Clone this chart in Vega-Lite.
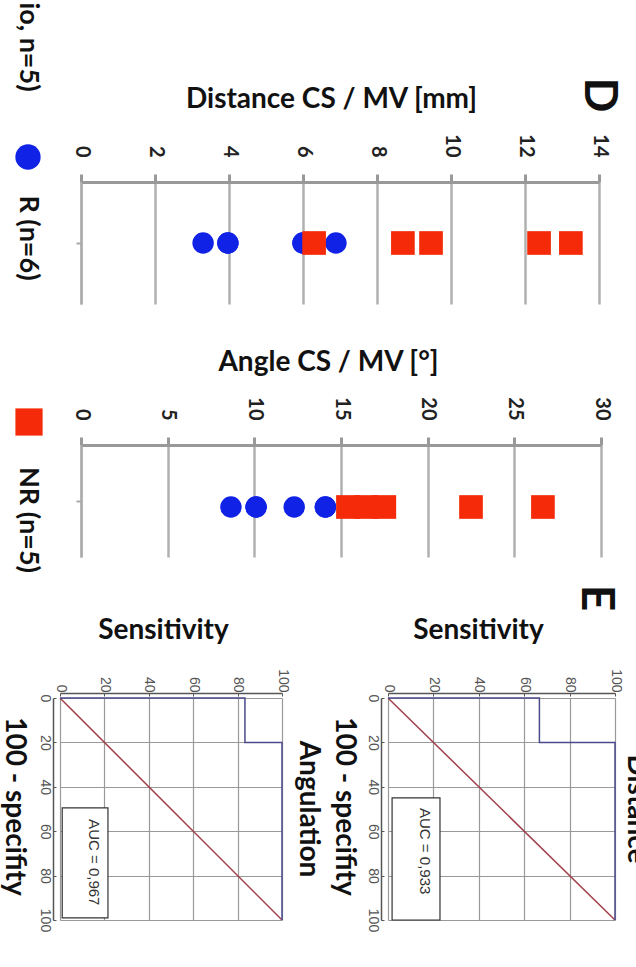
{
  "$schema": "https://vega.github.io/schema/vega-lite/v6.json",
  "background": "white",
  "padding": {"left": -2, "top": 2, "right": 0, "bottom": 0},
  "config": {"view": {"stroke": null}, "font": "Lato", "axis": {"labelFont": "Lato", "titleFont": "Lato"}},
  "datasets": {
    "dist": [
      {"group": "R", "row": "a", "value": 3.3},
      {"group": "R", "row": "a", "value": 3.97},
      {"group": "R", "row": "a", "value": 3.97},
      {"group": "R", "row": "a", "value": 6.0},
      {"group": "R", "row": "a", "value": 6.0},
      {"group": "R", "row": "a", "value": 6.89},
      {"group": "NR", "row": "a", "value": 6.3},
      {"group": "NR", "row": "a", "value": 8.7},
      {"group": "NR", "row": "a", "value": 9.46},
      {"group": "NR", "row": "a", "value": 12.38},
      {"group": "NR", "row": "a", "value": 13.24}
    ],
    "ang": [
      {"group": "R", "row": "a", "value": 8.65},
      {"group": "R", "row": "a", "value": 10.1},
      {"group": "R", "row": "a", "value": 10.1},
      {"group": "R", "row": "a", "value": 12.3},
      {"group": "R", "row": "a", "value": 14.1},
      {"group": "R", "row": "a", "value": 14.1},
      {"group": "NR", "row": "a", "value": 15.4},
      {"group": "NR", "row": "a", "value": 16.45},
      {"group": "NR", "row": "a", "value": 17.5},
      {"group": "NR", "row": "a", "value": 22.5},
      {"group": "NR", "row": "a", "value": 26.65}
    ],
    "rocA": [
      {"i": 0, "fpr": 0, "sens": 0},
      {"i": 1, "fpr": 0, "sens": 83.3},
      {"i": 2, "fpr": 20, "sens": 83.3},
      {"i": 3, "fpr": 20, "sens": 100},
      {"i": 4, "fpr": 100, "sens": 100}
    ],
    "rocD": [
      {"i": 0, "fpr": 0, "sens": 0},
      {"i": 1, "fpr": 0, "sens": 66.7},
      {"i": 2, "fpr": 20, "sens": 66.7},
      {"i": 3, "fpr": 20, "sens": 100},
      {"i": 4, "fpr": 100, "sens": 100}
    ],
    "diag": [
      {"i": 0, "fpr": 0, "sens": 0},
      {"i": 1, "fpr": 100, "sens": 100}
    ]
  },
  "bounds": "flush",
  "spacing": 141,
  "vconcat": [
    {
      "width": 539,
      "height": 122,
      "layer": [
        {
          "data": {"name": "dist"},
          "mark": {"type": "point", "filled": true, "opacity": 1},
          "encoding": {
            "x": {"field": "value", "type": "quantitative", "scale": {"domain": [0, 14], "nice": false, "range": [21, 539]},
              "axis": {"orient": "top", "values": [0, 2, 4, 6, 8, 10, 12, 14], "labelAngle": 90, "labelAlign": "right", "labelBaseline": "middle", "labelFontSize": 20, "labelFontWeight": "bold", "labelColor": "#222", "labelPadding": 17, "domainColor": "#999", "domainWidth": 3, "tickColor": "#999", "tickWidth": 3, "tickSize": 8, "grid": true, "gridColor": "#b0b0b0", "gridWidth": 2.5, "title": "Distance CS / MV [mm]", "titleFontSize": 28, "titleFontWeight": "bold", "titleColor": "#111", "titlePadding": 20, "titleX": 271, "titleAlign": "center"}},
            "y": {"field": "row", "type": "nominal", "axis": {"offset": -21, "labels": false, "title": null, "domainColor": "#aaa", "domainWidth": 2, "tickColor": "#aaa", "tickWidth": 2, "tickSize": 5, "grid": false}},
            "color": {"field": "group", "type": "nominal", "scale": {"domain": ["R", "NR"], "range": ["#1022e6", "#f42a08"]}, "legend": null},
            "shape": {"field": "group", "type": "nominal", "scale": {"domain": ["R", "NR"], "range": ["circle", "square"]}, "legend": null},
            "size": {"field": "group", "type": "nominal", "scale": {"domain": ["R", "NR"], "range": [460, 560]}, "legend": null}
          }
        },
        {
          "data": {"values": [{"label": "R (n=6)"}]},
          "mark": {"type": "point", "filled": true, "opacity": 1, "shape": "circle", "color": "#1022e6", "size": 640, "xOffset": -53, "yOffset": -86},
          "encoding": {"x": {"datum": 0, "type": "quantitative"}, "y": {"datum": "a", "type": "nominal"}}
        },
        {
          "data": {"values": [{"label": "R (n=6)"}]},
          "mark": {"type": "text", "angle": 90, "fontSize": 27, "fontWeight": "bold", "color": "#111", "align": "center", "baseline": "middle", "xOffset": -53, "yOffset": -5},
          "encoding": {"x": {"datum": 0, "type": "quantitative"}, "y": {"datum": "a", "type": "nominal"}, "text": {"field": "label"}}
        },
        {
          "data": {"values": [{"label": "io, n=5)"}]},
          "mark": {"type": "text", "angle": 90, "fontSize": 27, "fontWeight": "bold", "color": "#111", "align": "center", "baseline": "middle", "xOffset": -53, "yOffset": -196},
          "encoding": {"x": {"datum": 0, "type": "quantitative"}, "y": {"datum": "a", "type": "nominal"}, "text": {"field": "label"}}
        },
        {
          "data": {"values": [{"label": "D"}]},
          "mark": {"type": "text", "angle": 90, "fontSize": 46, "fontWeight": "bold", "color": "#111", "align": "center", "baseline": "middle", "xOffset": 0, "yOffset": -148},
          "encoding": {"x": {"datum": 14, "type": "quantitative"}, "y": {"datum": "a", "type": "nominal"}, "text": {"field": "label"}}
        }
      ]
    },
    {
      "width": 541,
      "height": 112,
      "layer": [
        {
          "data": {"name": "ang"},
          "mark": {"type": "point", "filled": true, "opacity": 1, "yOffset": 6},
          "encoding": {
            "x": {"field": "value", "type": "quantitative", "scale": {"domain": [0, 30], "nice": false, "range": [21, 541]},
              "axis": {"orient": "top", "values": [0, 5, 10, 15, 20, 25, 30], "labelAngle": 90, "labelAlign": "right", "labelBaseline": "middle", "labelFontSize": 20, "labelFontWeight": "bold", "labelColor": "#222", "labelPadding": 17, "domainColor": "#999", "domainWidth": 3, "tickColor": "#999", "tickWidth": 3, "tickSize": 8, "grid": true, "gridColor": "#b0b0b0", "gridWidth": 2.5, "title": "Angle CS / MV [°]", "titleFontSize": 28, "titleFontWeight": "bold", "titleColor": "#111", "titlePadding": 20, "titleX": 268, "titleAlign": "center"}},
            "y": {"field": "row", "type": "nominal", "axis": {"offset": -21, "labels": false, "title": null, "domainColor": "#aaa", "domainWidth": 2, "tickColor": "#aaa", "tickWidth": 2, "tickSize": 5, "grid": false}},
            "color": {"field": "group", "type": "nominal", "scale": {"domain": ["R", "NR"], "range": ["#1022e6", "#f42a08"]}, "legend": null},
            "shape": {"field": "group", "type": "nominal", "scale": {"domain": ["R", "NR"], "range": ["circle", "square"]}, "legend": null},
            "size": {"field": "group", "type": "nominal", "scale": {"domain": ["R", "NR"], "range": [460, 560]}, "legend": null}
          }
        },
        {
          "data": {"values": [{"label": "NR (n=5)"}]},
          "mark": {"type": "point", "filled": true, "opacity": 1, "shape": "square", "color": "#f42a08", "size": 740, "xOffset": -52, "yOffset": -79},
          "encoding": {"x": {"datum": 0, "type": "quantitative"}, "y": {"datum": "a", "type": "nominal"}}
        },
        {
          "data": {"values": [{"label": "NR (n=5)"}]},
          "mark": {"type": "text", "angle": 90, "fontSize": 27, "fontWeight": "bold", "color": "#111", "align": "center", "baseline": "middle", "xOffset": -53, "yOffset": 19},
          "encoding": {"x": {"datum": 0, "type": "quantitative"}, "y": {"datum": "a", "type": "nominal"}, "text": {"field": "label"}}
        }
      ]
    },
    {
      "bounds": "flush",
      "spacing": 106,
      "hconcat": [
        {
          "width": 222,
          "height": 222,
          "title": {"text": "Angulation", "orient": "right", "fontSize": 28, "fontWeight": "bold", "font": "Lato", "color": "#111", "offset": 5},
          "layer": [
            {
              "data": {"name": "diag"},
              "mark": {"type": "line", "color": "#a0404a", "strokeWidth": 1.5},
              "encoding": {
                "x": {"field": "sens", "type": "quantitative", "scale": {"domain": [0, 100], "nice": false},
                  "axis": {"orient": "top", "values": [0, 5, 10, 15, 20, 25, 30, 35, 40, 45, 50, 55, 60, 65, 70, 75, 80, 85, 90, 95, 100], "labelExpr": "datum.value % 20 === 0 ? datum.label : ''", "labelOverlap": false, "labelAngle": 90, "labelAlign": "right", "labelBaseline": "middle", "labelFont": "Liberation Sans", "labelFontSize": 14, "labelColor": "#555", "labelPadding": 4, "offset": 5, "domainColor": "#555", "domainWidth": 1.5, "tickColor": "#555", "tickSize": -3, "tickWidth": 1, "grid": true, "gridColor": "#999", "gridWidth": 1.2, "gridOpacity": {"condition": {"test": "datum.value % 20 === 0", "value": 1}, "value": 0}, "title": "Sensitivity", "titleFontSize": 28, "titleFontWeight": "bold", "titleColor": "#111", "titlePadding": 24, "titleX": 103, "titleAlign": "center"}},
                "y": {"field": "fpr", "type": "quantitative", "scale": {"domain": [0, 100], "nice": false, "reverse": true},
                  "axis": {"orient": "left", "values": [0, 5, 10, 15, 20, 25, 30, 35, 40, 45, 50, 55, 60, 65, 70, 75, 80, 85, 90, 95, 100], "labelExpr": "datum.value % 20 === 0 ? datum.label : ''", "labelOverlap": false, "labelAngle": 90, "labelAlign": "center", "labelBaseline": "top", "labelFont": "Liberation Sans", "labelFontSize": 14, "labelColor": "#555", "labelPadding": 5, "offset": 7, "domainColor": "#555", "domainWidth": 1.5, "tickColor": "#555", "tickSize": -3, "tickWidth": 1, "grid": true, "gridColor": "#999", "gridWidth": 1.2, "gridOpacity": {"condition": {"test": "datum.value % 20 === 0", "value": 1}, "value": 0}, "title": "100 - specifity", "titleAngle": 90, "titleFontSize": 28, "titleFontWeight": "bold", "titleColor": "#111", "titleX": -40, "titleY": 108, "titleAlign": "center", "titleBaseline": "middle"}},
                "order": {"field": "i", "type": "quantitative"}
              }
            },
            {
              "data": {"name": "rocA"},
              "mark": {"type": "line", "color": "#4a4a8c", "strokeWidth": 1.5},
              "encoding": {"x": {"field": "sens", "type": "quantitative"}, "y": {"field": "fpr", "type": "quantitative"}, "order": {"field": "i", "type": "quantitative"}}
            },
            {
              "data": {"values": [{"label": "AUC = 0,967"}]},
              "mark": {"type": "rect", "fill": "white", "stroke": "#333", "strokeWidth": 1.2},
              "encoding": {"x": {"datum": 1, "type": "quantitative"}, "x2": {"datum": 21.6}, "y": {"datum": 49.5, "type": "quantitative"}, "y2": {"datum": 99}}
            },
            {
              "data": {"values": [{"label": "AUC = 0,967"}]},
              "mark": {"type": "text", "angle": 90, "font": "Liberation Sans", "fontSize": 15, "color": "#333", "align": "center", "baseline": "middle"},
              "encoding": {"x": {"datum": 15.5, "type": "quantitative"}, "y": {"datum": 74, "type": "quantitative"}, "text": {"field": "label"}}
            }
          ]
        },
        {
          "width": 227,
          "height": 222,
          "title": {"text": "Distance", "orient": "right", "fontSize": 28, "fontWeight": "bold", "font": "Lato", "color": "#111", "offset": 0},
          "layer": [
            {
              "data": {"name": "diag"},
              "mark": {"type": "line", "color": "#a0404a", "strokeWidth": 1.5},
              "encoding": {
                "x": {"field": "sens", "type": "quantitative", "scale": {"domain": [0, 100], "nice": false},
                  "axis": {"orient": "top", "values": [0, 5, 10, 15, 20, 25, 30, 35, 40, 45, 50, 55, 60, 65, 70, 75, 80, 85, 90, 95, 100], "labelExpr": "datum.value % 20 === 0 ? datum.label : ''", "labelOverlap": false, "labelAngle": 90, "labelAlign": "right", "labelBaseline": "middle", "labelFont": "Liberation Sans", "labelFontSize": 14, "labelColor": "#555", "labelPadding": 4, "offset": 5, "domainColor": "#555", "domainWidth": 1.5, "tickColor": "#555", "tickSize": -3, "tickWidth": 1, "grid": true, "gridColor": "#999", "gridWidth": 1.2, "gridOpacity": {"condition": {"test": "datum.value % 20 === 0", "value": 1}, "value": 0}, "title": "Sensitivity", "titleFontSize": 28, "titleFontWeight": "bold", "titleColor": "#111", "titlePadding": 24, "titleX": 90, "titleAlign": "center"}},
                "y": {"field": "fpr", "type": "quantitative", "scale": {"domain": [0, 100], "nice": false, "reverse": true},
                  "axis": {"orient": "left", "values": [0, 5, 10, 15, 20, 25, 30, 35, 40, 45, 50, 55, 60, 65, 70, 75, 80, 85, 90, 95, 100], "labelExpr": "datum.value % 20 === 0 ? datum.label : ''", "labelOverlap": false, "labelAngle": 90, "labelAlign": "center", "labelBaseline": "top", "labelFont": "Liberation Sans", "labelFontSize": 14, "labelColor": "#555", "labelPadding": 5, "offset": 7, "domainColor": "#555", "domainWidth": 1.5, "tickColor": "#555", "tickSize": -3, "tickWidth": 1, "grid": true, "gridColor": "#999", "gridWidth": 1.2, "gridOpacity": {"condition": {"test": "datum.value % 20 === 0", "value": 1}, "value": 0}, "title": "100 - specifity", "titleAngle": 90, "titleFontSize": 28, "titleFontWeight": "bold", "titleColor": "#111", "titleX": -38, "titleY": 108, "titleAlign": "center", "titleBaseline": "middle"}},
                "order": {"field": "i", "type": "quantitative"}
              }
            },
            {
              "data": {"name": "rocD"},
              "mark": {"type": "line", "color": "#4a4a8c", "strokeWidth": 1.5},
              "encoding": {"x": {"field": "sens", "type": "quantitative"}, "y": {"field": "fpr", "type": "quantitative"}, "order": {"field": "i", "type": "quantitative"}}
            },
            {
              "data": {"values": [{"label": "AUC = 0,933"}]},
              "mark": {"type": "rect", "fill": "white", "stroke": "#333", "strokeWidth": 1.2},
              "encoding": {"x": {"datum": 1.8, "type": "quantitative"}, "x2": {"datum": 22.9}, "y": {"datum": 45, "type": "quantitative"}, "y2": {"datum": 100}}
            },
            {
              "data": {"values": [{"label": "AUC = 0,933"}]},
              "mark": {"type": "text", "angle": 90, "font": "Liberation Sans", "fontSize": 15, "color": "#333", "align": "center", "baseline": "middle"},
              "encoding": {"x": {"datum": 16.5, "type": "quantitative"}, "y": {"datum": 69, "type": "quantitative"}, "text": {"field": "label"}}
            },
            {
              "data": {"values": [{"label": "E"}]},
              "mark": {"type": "text", "angle": 90, "fontSize": 46, "fontWeight": "bold", "color": "#111", "align": "center", "baseline": "middle", "xOffset": -19, "yOffset": -100},
              "encoding": {"x": {"datum": 100, "type": "quantitative"}, "y": {"datum": 0, "type": "quantitative"}, "text": {"field": "label"}}
            }
          ]
        }
      ]
    }
  ]
}
